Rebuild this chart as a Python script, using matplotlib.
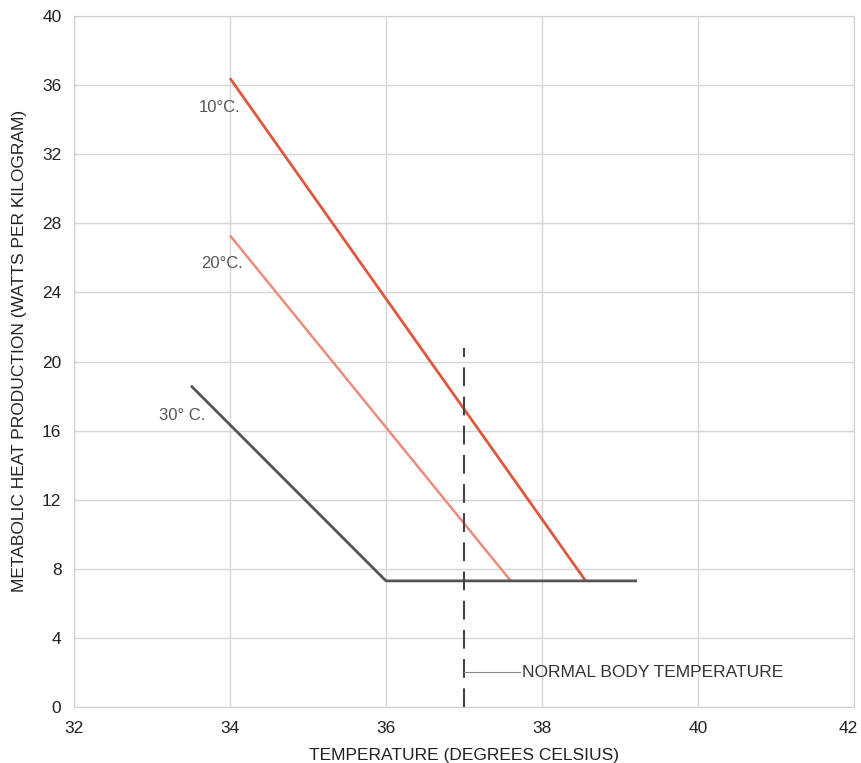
import matplotlib
matplotlib.use("Agg")
import matplotlib.pyplot as plt
from matplotlib.transforms import ScaledTranslation

plt.rcParams['font.family'] = ['Liberation Sans', 'DejaVu Sans']

# Metabolic heat production vs body temperature at three ambient temperatures
temp_10 = [34.0, 38.56]
heat_10 = [36.4, 7.3]
temp_20 = [34.0, 37.6]
heat_20 = [27.3, 7.3]
temp_30 = [33.5, 36.0, 39.22]
heat_30 = [18.6, 7.3, 7.3]

normal_body_temp = 37.0
normal_line_top = 20.8

x_ticks = [32, 34, 36, 38, 40, 42]
y_ticks = [0, 4, 8, 12, 16, 20, 24, 28, 32, 36, 40]

fig = plt.figure(figsize=(8.62, 7.63), dpi=100)
ax = fig.add_axes([0.0858, 0.0734, 0.9049, 0.9056])
ax.set_xlim(32, 42)
ax.set_ylim(0, 40)
ax.set_xticks(x_ticks)
ax.set_yticks(y_ticks)
ax.grid(True, color='#d6d6d6', linewidth=1.0)
ax.set_axisbelow(True)
for s in ax.spines.values():
    s.set_color('#d0d0d0')
ax.tick_params(length=0, labelsize=12.5, colors='#222222')
ax.tick_params(axis='x', pad=10)
ax.tick_params(axis='y', pad=9)

ax.plot(temp_10, heat_10, color='#e0573c', lw=2.0, solid_capstyle='butt')
ax.plot(temp_20, heat_20, color='#ec8c7a', lw=1.8, solid_capstyle='butt')
ax.plot(temp_30, heat_30, color='#555555', lw=2.0, solid_capstyle='butt')

ax.plot([normal_body_temp, normal_body_temp], [0, normal_line_top],
        color='#444444', lw=1.5, dashes=(9, 5))
ax.plot([normal_body_temp, 37.72], [2.0, 2.0], color='#888888', lw=0.8)
ax.text(37.74, 1.97, 'NORMAL BODY TEMPERATURE', fontsize=12.5, color='#333333',
        va='center', ha='left')

ax.text(34.13, 34.7, '10°C.', fontsize=12, color='#555555', ha='right', va='center')
ax.text(34.17, 25.7, '20°C.', fontsize=12, color='#555555', ha='right', va='center')
ax.text(33.68, 16.9, '30° C.', fontsize=12, color='#555555', ha='right', va='center')

ax.set_xlabel('TEMPERATURE (DEGREES CELSIUS)', fontsize=12.5, color='#222222', labelpad=9)
ax.set_ylabel('METABOLIC HEAT PRODUCTION (WATTS PER KILOGRAM)', fontsize=12.5,
              color='#222222', labelpad=12)
ax.yaxis.set_label_coords(-0.0605, 0.516)

# keep the last x tick label inside the figure
last = ax.get_xticklabels()[-1]
last.set_transform(last.get_transform() + ScaledTranslation(-6 / 100, 0, fig.dpi_scale_trans))

fig.savefig('out.png', dpi=100)
